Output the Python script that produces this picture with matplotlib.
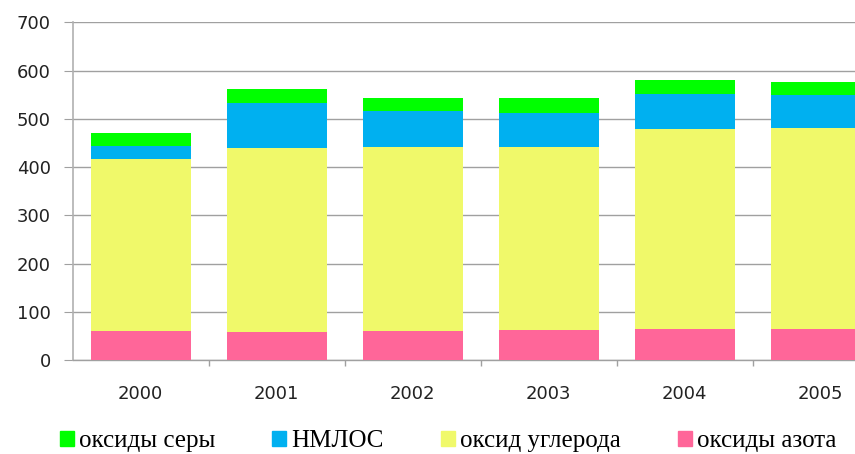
import matplotlib
matplotlib.use("Agg")
import matplotlib.pyplot as plt
import numpy as np
from matplotlib.patches import Patch

years = ["2000", "2001", "2002", "2003", "2004", "2005"]
nox = [61, 59, 61, 63, 65, 65]          # оксиды азота
co = [356, 380, 380, 378, 414, 416]     # оксид углерода
nmvoc = [26, 93, 76, 71, 73, 69]        # НМЛОС
sox = [27, 29, 26, 31, 28, 27]          # оксиды серы

labels = ["оксиды серы", "НМЛОС", "оксид углерода", "оксиды азота"]
colors = {"sox": "#00FF00", "nmvoc": "#00B0F0", "co": "#F0F96A", "nox": "#FF6699"}

fig = plt.figure(figsize=(8.55, 4.54), dpi=100)
W, H = 855, 454
ax = fig.add_axes([72.5 / W, (H - 360.4) / H, 816.2 / W, 338.2 / H])

x = np.arange(len(years))
w = 0.735
b1 = np.array(nox)
b2 = b1 + np.array(co)
b3 = b2 + np.array(nmvoc)
ax.bar(x, nox, w, color=colors["nox"], zorder=3)
ax.bar(x, co, w, bottom=b1, color=colors["co"], zorder=3)
ax.bar(x, nmvoc, w, bottom=b2, color=colors["nmvoc"], zorder=3)
ax.bar(x, sox, w, bottom=b3, color=colors["sox"], zorder=3)

ax.set_xlim(-0.5, len(years) - 0.5)
ax.set_ylim(0, 700)
ax.set_yticks(range(0, 701, 100))
ax.yaxis.grid(True, color="#A0A0A0", linewidth=1.0, zorder=0)
ax.set_axisbelow(True)
for s in ["top", "right"]:
    ax.spines[s].set_visible(False)
ax.spines["left"].set_color("#B0B0B0")
ax.spines["left"].set_linewidth(1.2)
ax.spines["bottom"].set_color("#A0A0A0")
ax.spines["bottom"].set_linewidth(1.0)

ax.set_xticks(x)
ax.set_xticklabels(years)
ax.set_xticks(np.arange(0.5, len(years) - 0.5, 1.0), minor=True)
ax.tick_params(axis="x", which="major", length=0, pad=18, labelsize=13, labelcolor="#222222")
ax.tick_params(axis="x", which="minor", length=4, color="#A0A0A0", width=1)
ax.tick_params(axis="y", length=6.5, pad=9, labelsize=13, color="#A0A0A0", labelcolor="#222222")

handles = [Patch(color=colors["sox"]), Patch(color=colors["nmvoc"]),
           Patch(color=colors["co"]), Patch(color=colors["nox"])]
fig.legend(handles, labels, loc="center", bbox_to_anchor=(448 / W, (H - 441) / H),
           ncol=4, frameon=False, handlelength=0.55, handleheight=0.55,
           handletextpad=0.2, columnspacing=2.3, borderpad=0, borderaxespad=0,
           prop={"family": "Liberation Serif", "size": 18})

fig.savefig("out.png", dpi=100)
